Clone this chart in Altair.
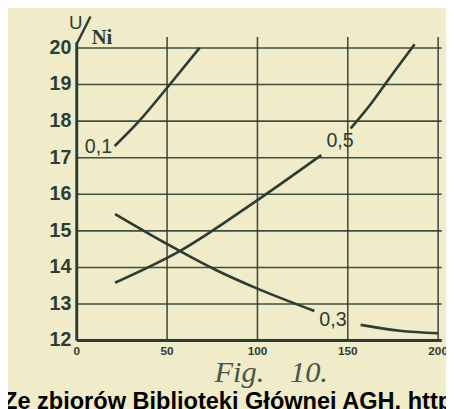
import altair as alt
import pandas as pd

# ---- data ----
c01_x = [21, 34.5, 51.5, 68]
c01_y = [17.32, 18, 19, 20]
c05a_x = [21.2, 57.2, 100, 135.3]
c05a_y = [13.58, 14.45, 15.84, 17.07]
c05b_x = [151.6, 164, 172, 187]
c05b_y = [17.8, 18.55, 19.1, 20.1]
c03a_x = [21.2, 50, 77, 100, 131.5]
c03a_y = [15.46, 14.64, 13.93, 13.42, 12.81]
c03b_x = [157.1, 178.8, 200]
c03b_y = [12.43, 12.27, 12.2]

lbl_text = ["0,1", "0,5", "0,3"]
lbl_x = [12, 145.7, 141.8]
lbl_y = [17.29, 17.45, 12.56]

x_ticks = [0, 50, 100, 150, 200]
y_ticks = [12, 13, 14, 15, 16, 17, 18, 19, 20]
h_grid = [13, 14, 15, 16, 17, 18, 19, 20]
v_grid = [50, 100, 150, 200]

caption_text = ["Fig.", "10."]
caption_x = [90, 128.5]
caption_y = [11.12, 11.1]

watermark = "Ze zbiorów Biblioteki Głównej AGH, http://www.bg.agh.edu.pl/"

INK = "#2c3e33"
BG = "#f0ebc8"

xs = alt.Scale(domain=[0, 200], nice=False, zero=False)
ys = alt.Scale(domain=[12, 20], nice=False, zero=False)


def X(f):
    return alt.X(f, scale=xs, axis=None)


def Y(f):
    return alt.Y(f, scale=ys, axis=None)


rows = []
for name, xx, yy in [("0.1", c01_x, c01_y), ("0.5a", c05a_x, c05a_y),
                     ("0.5b", c05b_x, c05b_y), ("0.3a", c03a_x, c03a_y),
                     ("0.3b", c03b_x, c03b_y)]:
    for i, (a, b) in enumerate(zip(xx, yy)):
        rows.append({"seg": name, "x": a, "y": b, "o": i})
curves_df = pd.DataFrame(rows)

hg_df = pd.DataFrame({"y": h_grid, "x0": 0, "x1": 202})
vg_df = pd.DataFrame({"x": v_grid, "y0": 12, "y1": 20.3})

hgrid = alt.Chart(hg_df).mark_rule(color=INK, strokeWidth=1.6, opacity=0.9).encode(
    x=X("x0:Q"), x2="x1:Q", y=Y("y:Q"))
vgrid = alt.Chart(vg_df).mark_rule(color=INK, strokeWidth=1.6, opacity=0.9).encode(
    x=X("x:Q"), y=Y("y0:Q"), y2="y1:Q")

left_axis = alt.Chart(pd.DataFrame({"x": [0], "y0": [12], "y1": [20.15]})).mark_rule(
    color=INK, strokeWidth=3).encode(x=X("x:Q"), y=Y("y0:Q"), y2="y1:Q")
bottom_axis = alt.Chart(pd.DataFrame({"y": [12], "x0": [0], "x1": [202]})).mark_rule(
    color=INK, strokeWidth=3).encode(x=X("x0:Q"), x2="x1:Q", y=Y("y:Q"))

lines = alt.Chart(curves_df).mark_line(color=INK, strokeWidth=2.7, interpolate="monotone").encode(
    x=X("x:Q"), y=Y("y:Q"), detail="seg:N", order="o:Q")

ytick_df = pd.DataFrame({"v": y_ticks, "t": [str(v) for v in y_ticks]})
ytick_df["x"] = -3
ylabels = alt.Chart(ytick_df).mark_text(
    font="Liberation Sans", fontSize=20, fontWeight="bold", color=INK, baseline="middle",
    align="right").encode(x=X("x:Q"), y=Y("v:Q"), text="t:N")

xtick_df = pd.DataFrame({"v": x_ticks, "t": [str(v) for v in x_ticks]})
xtick_df["y"] = 11.7
xlabels = alt.Chart(xtick_df).mark_text(
    font="Liberation Sans", fontSize=12, fontWeight="bold", color=INK, baseline="middle",
    align="center").encode(x=X("v:Q"), y=Y("y:Q"), text="t:N")

labels = alt.Chart(pd.DataFrame({"t": lbl_text, "x": lbl_x, "y": lbl_y})).mark_text(
    font="Liberation Sans", fontSize=20, color=INK, baseline="middle", align="center").encode(
    x=X("x:Q"), y=Y("y:Q"), text="t:N")

u_lab = alt.Chart(pd.DataFrame({"t": ["U"], "x": [-0.5], "y": [20.68]})).mark_text(
    font="Liberation Sans", fontSize=19, color=INK, baseline="middle", align="center").encode(
    x=X("x:Q"), y=Y("y:Q"), text="t:N")
slash = alt.Chart(pd.DataFrame({"x0": [0.2], "x1": [7.6], "y0": [20.13], "y1": [20.86]})).mark_rule(
    color=INK, strokeWidth=2.5).encode(x=X("x0:Q"), x2="x1:Q", y=Y("y0:Q"), y2="y1:Q")
ni_lab = alt.Chart(pd.DataFrame({"t": ["Ni"], "x": [14.0], "y": [20.27]})).mark_text(
    font="Liberation Serif", fontSize=21, fontWeight="bold", color=INK, baseline="middle",
    align="center").encode(x=X("x:Q"), y=Y("y:Q"), text="t:N")

caption = alt.Chart(pd.DataFrame({"t": caption_text, "x": caption_x, "y": caption_y})).mark_text(
    font="Liberation Serif", fontSize=31, fontStyle="italic", color="#46564b", baseline="middle",
    align="center").encode(x=X("x:Q"), y=Y("y:Q"), text="t:N")

wm = alt.Chart(pd.DataFrame({"t": [watermark], "x": [-40.8], "y": [10.12]})).mark_text(
    font="Liberation Sans", fontSize=24, fontWeight="bold", color="#000000", baseline="alphabetic",
    align="left").encode(x=X("x:Q"), y=Y("y:Q"), text="t:N")

chart = alt.layer(hgrid, vgrid, left_axis, bottom_axis, lines, ylabels, xlabels, labels,
                  u_lab, slash, ni_lab, caption, wm).properties(
    width=368, height=298, background=BG,
    padding={"left": 70, "top": 37, "right": 8, "bottom": 66},
    autosize=alt.AutoSizeParams(type="none"),
).configure_view(stroke=None)

chart.save("out.html", embed_options={"renderer": "svg", "actions": False})
